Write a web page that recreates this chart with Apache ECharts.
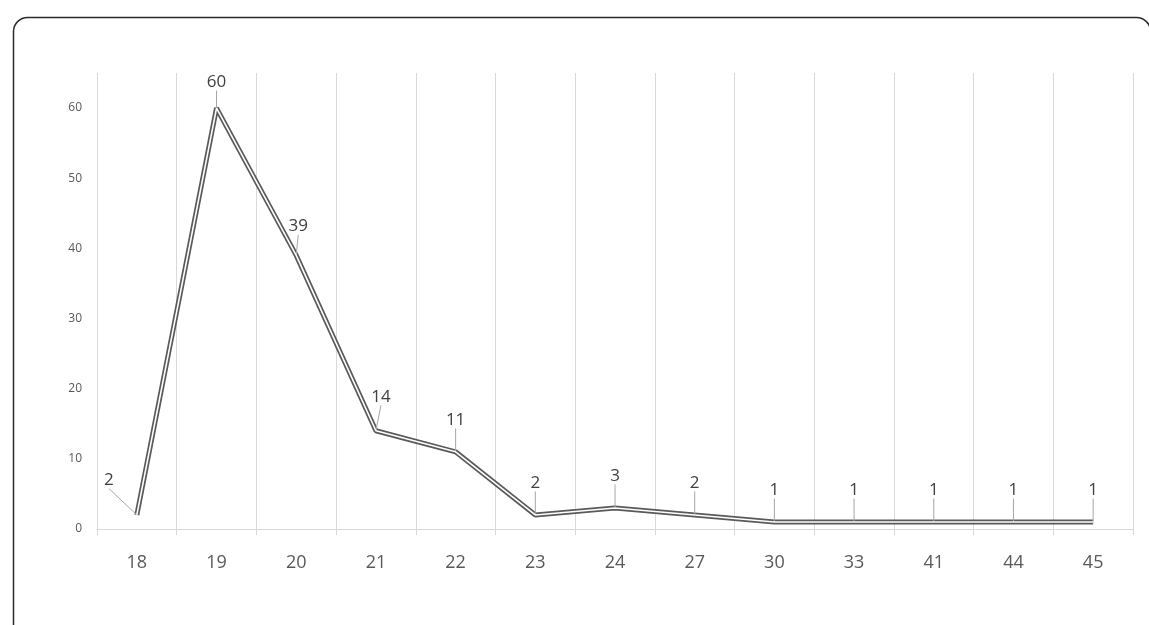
<!DOCTYPE html>
<html>
<head>
<meta charset="utf-8">
<script src="https://cdn.jsdelivr.net/npm/echarts@6/dist/echarts.min.js"></script>
<style>html,body{margin:0;padding:0;background:#fff;}#c{width:1149px;height:625px;}</style>
</head>
<body>
<div id="c"></div>
<script>
const categories = ['18','19','20','21','22','23','24','27','30','33','41','44','45'];
const counts = [2,60,39,14,11,2,3,2,1,1,1,1,1];
const yTicks = [0,10,20,30,40,50,60];

const chart = echarts.init(document.getElementById('c'), null, {renderer:'canvas'});
const font = "'Open Sans', 'Liberation Sans', sans-serif";
chart.setOption({
  animation: false,
  backgroundColor: '#fff',
  graphic: [{
    type: 'rect', left: 11, top: 15,
    shape: {width: 1137, height: 700, r: 14},
    style: {fill: 'none', stroke: '#2b2b2b', lineWidth: 1.5},
    silent: true, z: 0
  }],
  grid: {left: 97, right: 16, top: 73, bottom: 96},
  xAxis: {
    type: 'category', data: categories, boundaryGap: true,
    axisLine: {show: true, lineStyle: {color: '#d9d9d9', width: 1}},
    axisTick: {show: true, length: 6, lineStyle: {color: '#d9d9d9'}},
    axisLabel: {color: '#595959', fontSize: 18, fontFamily: font, margin: 25},
    splitLine: {show: true, lineStyle: {color: '#d9d9d9', width: 1}}
  },
  yAxis: {
    type: 'value', min: 0, max: 65, interval: 10,
    axisLine: {show: false}, axisTick: {show: false},
    splitLine: {show: false},
    axisLabel: {color: '#595959', fontSize: 12, fontFamily: font, margin: 15, showMaxLabel: false,
      formatter: v => yTicks.includes(v) ? String(v) : ''}
  },
  series: [{
    type: 'line', data: counts, symbol: 'circle', symbolSize: 1, showSymbol: true, silent: true,
    itemStyle: {color: 'rgba(0,0,0,0)'},
    lineStyle: {color: '#5a5a5a', width: 5},
    z: 2,
    label: {show: true, position: 'top', distance: 5, color: '#404040', fontSize: 17, fontFamily: font},
    labelLayout: p => {
      if (p.dataIndex === 0) return {dx: -28, dy: -21};
      if (p.dataIndex === 1) return {dy: -12};
      if (p.dataIndex === 2) return {dx: 2, dy: -15};
      if (p.dataIndex === 3) return {dx: 5, dy: -20};
      return {dy: -18};
    },
    labelLine: {show: true, lineStyle: {color: '#a6a6a6', width: 1}, length2: 0}
  }, {
    type: 'line', data: counts, symbol: 'none', silent: true,
    lineStyle: {color: '#ffffff', width: 1.6},
    z: 3
  }]
});
</script>
</body>
</html>
